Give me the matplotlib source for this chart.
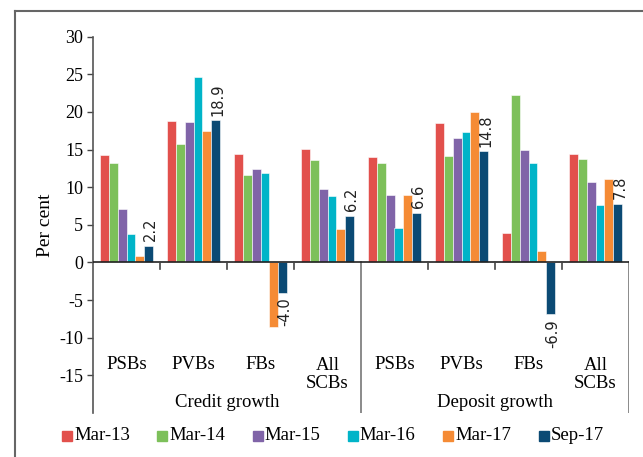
import matplotlib
matplotlib.use('Agg')
import matplotlib.pyplot as plt
from matplotlib.lines import Line2D
from matplotlib.patches import Rectangle
import numpy as np

# Datos (por cento)
categorias = ['PSBs', 'PVBs', 'FBs', 'All\nSCBs']
grupos = ['Credit growth', 'Deposit growth']
series = ['Mar-13', 'Mar-14', 'Mar-15', 'Mar-16', 'Mar-17', 'Sep-17']
colores = ['#E2504C', '#7DC05A', '#8064A8', '#00B4C8', '#F58B35', '#0B4A74']

# credit: PSBs, PVBs, FBs, All SCBs | deposit: PSBs, PVBs, FBs, All SCBs
mar13 = [14.3, 18.8, 14.4, 15.1, 14.0, 18.5, 3.9, 14.4]
mar14 = [13.2, 15.8, 11.6, 13.6, 13.2, 14.2, 22.3, 13.7]
mar15 = [7.1, 18.7, 12.4, 9.7, 8.9, 16.6, 14.9, 10.7]
mar16 = [3.8, 24.7, 11.9, 8.8, 4.6, 17.3, 13.2, 7.6]
mar17 = [0.8, 17.5, -8.6, 4.4, 9.0, 20.0, 1.5, 11.1]
sep17 = [2.2, 18.9, -4.0, 6.2, 6.6, 14.8, -6.9, 7.8]

valores = [mar13, mar14, mar15, mar16, mar17, sep17]

serif = 'Liberation Serif'
plt.rcParams['font.family'] = serif
plt.rcParams['axes.unicode_minus'] = False

fig = plt.figure(figsize=(6.43, 4.57), dpi=100)
ax = fig.add_axes([93 / 643, 1 - 413 / 457, (629 - 93) / 643, (413 - 36.7) / 457])

n = len(mar13)
x = np.arange(n)
ancho = 0.133
for j, (nombre, vals, col) in enumerate(zip(series, valores, colores)):
    ax.bar(x + (j - 2.5) * ancho, vals, ancho, color=col, edgecolor='white',
           linewidth=0.4, label=nombre, zorder=2)

# etiquetas de Sep-17
for i, v in enumerate(sep17):
    xp = x[i] + 2.5 * ancho + 0.03
    if v >= 0:
        ax.text(xp, v + 0.6, f'{v:.1f}', rotation=90, ha='center', va='bottom',
                fontsize=10.5, family='DejaVu Sans', color='#222222')
    else:
        ax.text(xp, v - 0.6, f'{v:.1f}', rotation=90, ha='center', va='top',
                fontsize=10.5, family='DejaVu Sans', color='#222222')

ax.set_xlim(-0.5, n - 0.5)
ax.set_ylim(-20, 30)
ax.set_yticks(np.arange(-15, 31, 5))
ax.tick_params(axis='y', direction='out', length=4, width=1, color='#444444',
               labelsize=13, pad=3)
ax.set_xticks([])
for s in ['top', 'right', 'bottom']:
    ax.spines[s].set_visible(False)
ax.spines['left'].set_color('#555555')
ax.spines['left'].set_linewidth(1.2)

ax.axhline(0, color='#222222', linewidth=1.2, zorder=3)
for i in range(n):
    xs = i + 0.5
    if i in (3, 7):
        ax.plot([xs, xs], [0, -20], color='#777777', linewidth=1.2, zorder=1)
    else:
        ax.plot([xs, xs], [0, -0.9], color='#444444', linewidth=1.2, zorder=3)

for i in range(n):
    ax.text(x[i], -13.6 if i % 4 != 3 else -14.9, categorias[i % 4], ha='center',
            va='center', fontsize=13.5, linespacing=1.05)
for g, nombre in enumerate(grupos):
    ax.text(g * 4 + 1.5, -18.6, nombre, ha='center', va='center', fontsize=13.5)

ax.set_ylabel('Per cent', fontsize=14, labelpad=4)

# leyenda
for j, (nombre, col) in enumerate(zip(series, colores)):
    x0 = 62 + 95.3 * j
    fig.patches.append(Rectangle((x0 / 643, 1 - 441 / 457), 10 / 643, 10 / 457,
                                 transform=fig.transFigure, color=col))
    fig.text((x0 + 12) / 643, 1 - 436 / 457, nombre, ha='left', va='center',
             fontsize=13.5)

# marco
fig.add_artist(Line2D([15 / 643, 15 / 643], [1 - 11 / 457, 0], color='#666666',
                      linewidth=1.5, transform=fig.transFigure))
fig.add_artist(Line2D([15 / 643, 1], [1 - 11 / 457, 1 - 11 / 457], color='#666666',
                      linewidth=1.5, transform=fig.transFigure))

fig.savefig('out.png', dpi=100)
